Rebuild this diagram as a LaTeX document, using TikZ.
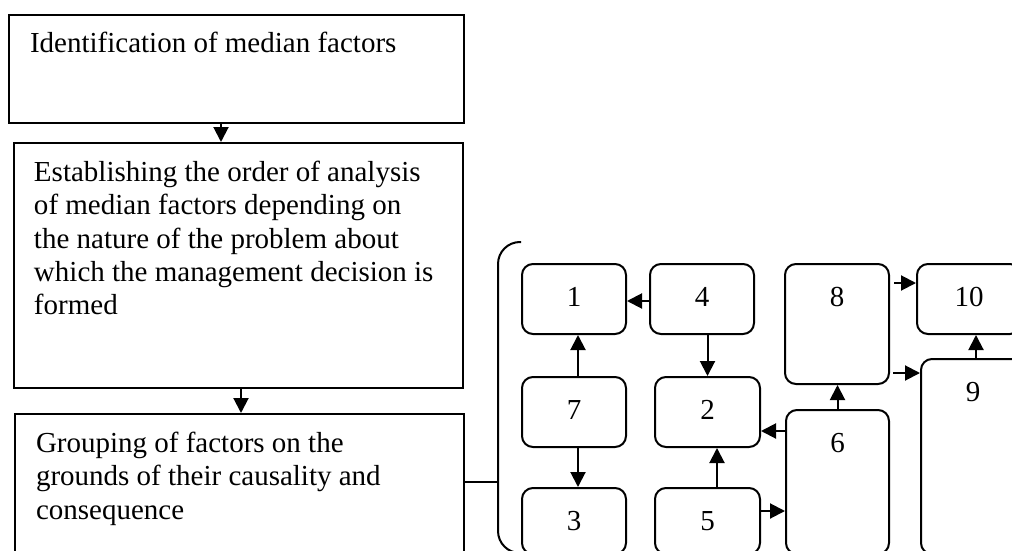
\documentclass[tikz,border=0pt]{standalone}
\usepackage{fontspec}
\setmainfont{Liberation Serif}
\usetikzlibrary{arrows.meta,calc}
\tikzset{
  bigbox/.style={draw, line width=2pt, anchor=north west, inner ysep=0pt},
  fac/.style={draw, line width=2pt, rounded corners=11pt, anchor=north west,
    inner sep=0pt, minimum width=104pt, text height=42pt},
  arr/.style={line width=2pt, -{Triangle[length=15pt,width=15pt]}},
  plain/.style={line width=2pt},
}
\begin{document}
\begin{tikzpicture}[x=1pt,y=-1pt,
  every node/.style={font=\fontsize{29pt}{33.3pt}\selectfont}]
\path[use as bounding box] (0,0) rectangle (1012,551);
\clip (0,0) rectangle (1012,551);

% left column
\node[bigbox, inner xsep=21pt] (nA) at (8,14)
  {\parbox[t][108pt][t]{413pt}{\vspace*{17pt}Identification of median factors}};
\node[bigbox, inner xsep=20pt] (nB) at (13,142)
  {\parbox[t][245pt][t]{409pt}{\vspace*{18pt}Establishing the order of analysis\\
   of median factors depending on\\
   the nature of the problem about\\
   which the management decision is\\
   formed}};
\node[bigbox, inner xsep=21pt] (nC) at (14,413)
  {\parbox[t][150pt][t]{407pt}{\vspace*{18pt}Grouping of factors on the\\
   grounds of their causality and\\
   consequence}};

\coordinate (ab) at ([xshift=-15.5pt]nA.south);
\draw[arr] (ab) -- (ab |- nB.north);
\coordinate (bc) at ([xshift=2.5pt]nB.south);
\draw[arr] (bc) -- (bc |- nC.north);

% bracket
\coordinate (br) at (498,482);
\draw[plain] (nC.east |- br) -- (br);
\draw[line width=2pt, rounded corners=22pt] (521,242) -- (498,242) -- (498,553) -- (521,553);

% factor boxes
\node[fac, text depth=28pt] (n1) at (521,263) {1};
\node[fac, text depth=28pt] (n4) at (649,263) {4};
\node[fac, text depth=28pt] (n7) at (521,376) {7};
\node[fac, text depth=28pt, minimum width=105pt] (n2) at (654,376) {2};
\node[fac, text depth=24pt] (n3) at (521,487) {3};
\node[fac, text depth=24pt, minimum width=105pt] (n5) at (654,487) {5};
\node[fac, text depth=78pt] (n8) at (784,263) {8};
\node[fac, text depth=28pt] (n10) at (916,263) {10};
\node[fac, text depth=153pt] (n9) at (920,358) {9};
\node[fac, text depth=102pt, minimum width=103pt] (n6) at (785,409) {6};

% connectors
\draw[arr] ([yshift=-2pt]n4.west) -- ([yshift=-2pt]n1.east);
\draw[arr] ([xshift=4pt]n7.north) -- ([xshift=4pt]n1.south);
\draw[arr] (n2.north |- n4.south) -- (n2.north);
\draw[arr] ([xshift=4pt]n7.south) -- ([xshift=4pt]n3.north);
\draw[arr] ([xshift=9.5pt]n5.north) -- ([xshift=9.5pt]n2.south);
\draw[arr] (n6.north) -- (n6.north |- n8.south);
\coordinate (q62) at ([yshift=-19pt]n2.east);
\draw[arr] (n6.west |- q62) -- (q62);
\coordinate (q56) at ([yshift=10pt]n5.east);
\draw[arr] (q56) -- (n6.west |- q56);
\coordinate (q810) at ([yshift=16pt]n10.west);
\draw[arr, shorten <=4pt] (n8.east |- q810) -- (q810);
\coordinate (q89) at ([yshift=-15pt]n9.north west);
\draw[arr, shorten <=3pt] (n8.east |- q89) -- (q89);
\coordinate (q910) at ([xshift=3pt]n9.north);
\draw[arr] (q910) -- (q910 |- n10.south);
\end{tikzpicture}
\end{document}
